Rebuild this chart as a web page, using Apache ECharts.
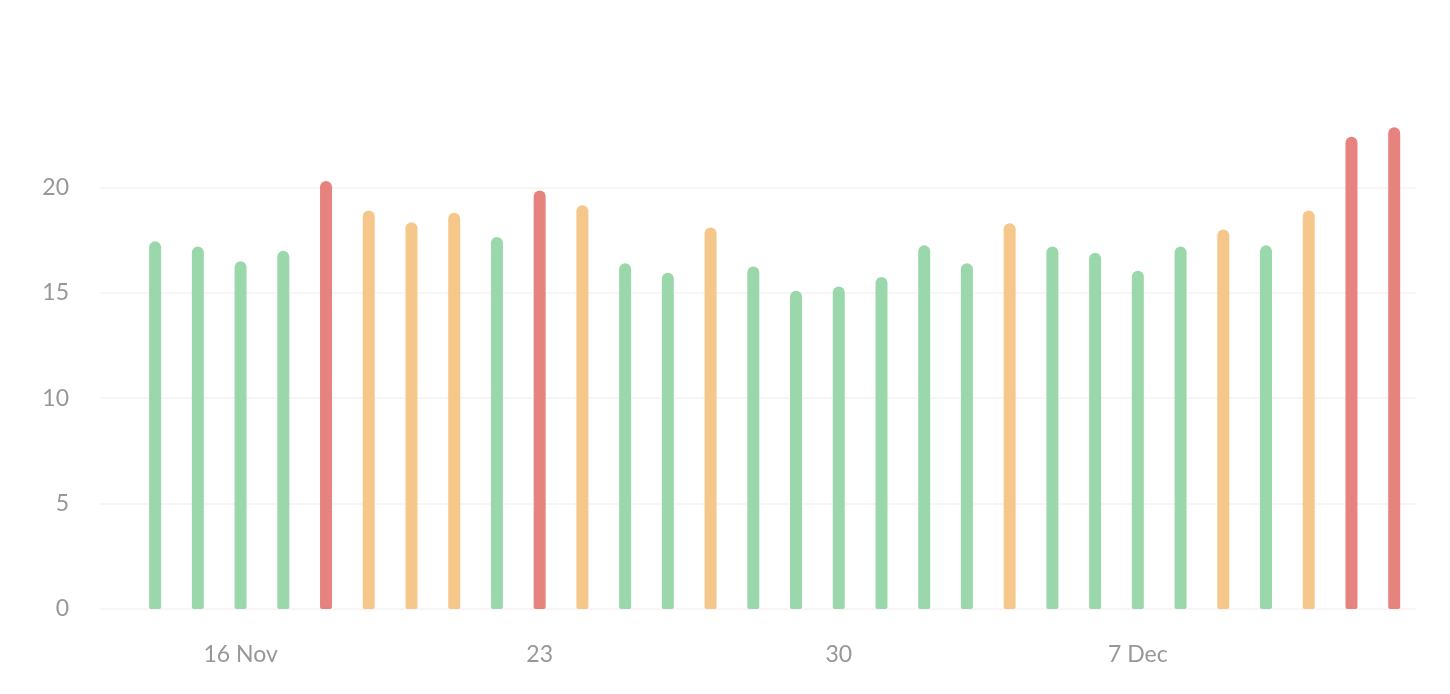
<!DOCTYPE html>
<html>
<head>
<meta charset="utf-8">
<script src="https://cdn.jsdelivr.net/npm/echarts@6/dist/echarts.min.js"></script>
<style>
  html, body { margin: 0; padding: 0; background: #fff; }
  #chart { width: 1450px; height: 694px; }
</style>
</head>
<body>
<div id="chart"></div>
<script>
// daily values, 14 Nov -> 13 Dec
const dates = [
  '2020-11-14', '2020-11-15', '2020-11-16', '2020-11-17', '2020-11-18', '2020-11-19',
  '2020-11-20', '2020-11-21', '2020-11-22', '2020-11-23', '2020-11-24', '2020-11-25',
  '2020-11-26', '2020-11-27', '2020-11-28', '2020-11-29', '2020-11-30', '2020-12-01',
  '2020-12-02', '2020-12-03', '2020-12-04', '2020-12-05', '2020-12-06', '2020-12-07',
  '2020-12-08', '2020-12-09', '2020-12-10', '2020-12-11', '2020-12-12', '2020-12-13'
];
const values = [
  17.45, 17.2, 16.5, 17.0, 20.3, 18.9,
  18.35, 18.8, 17.65, 19.85, 19.15, 16.4,
  15.95, 18.1, 16.25, 15.1, 15.3, 15.75,
  17.25, 16.4, 18.3, 17.2, 16.9, 16.05,
  17.2, 18.0, 17.25, 18.9, 22.4, 22.85
];
// g = ok, o = warning, r = high
const levels = [
  'g', 'g', 'g', 'g', 'r', 'o',
  'o', 'o', 'g', 'r', 'o', 'g',
  'g', 'o', 'g', 'g', 'g', 'g',
  'g', 'g', 'o', 'g', 'g', 'g',
  'g', 'o', 'g', 'o', 'r', 'r'
];
const tickDates = ['2020-11-16', '2020-11-23', '2020-11-30', '2020-12-07'];
const tickLabels = ['16 Nov', '23', '30', '7 Dec'];

const levelColors = { g: '#9ad8ab', o: '#f6c78b', r: '#e6837f' };

// x position = day index in the dates list
const tickIdx = tickDates.map(d => dates.indexOf(d));

const chart = echarts.init(document.getElementById('chart'));

chart.setOption({
  backgroundColor: '#fff',
  animation: false,
  textStyle: { fontFamily: 'Lato' },
  grid: { left: 100, right: 34, top: 82, bottom: 85 },
  xAxis: {
    type: 'value',
    min: -1.29,
    max: dates.length - 1 + 0.51,
    axisLine: { show: false },
    axisTick: { show: false },
    splitLine: { show: false },
    axisLabel: {
      customValues: tickIdx,
      formatter: function (v) {
        const i = tickIdx.indexOf(Math.round(v));
        return i >= 0 ? tickLabels[i] : '';
      },
      color: '#979797',
      fontSize: 23,
      margin: 34
    }
  },
  yAxis: {
    type: 'value',
    min: 0,
    max: 25,
    interval: 5,
    axisLine: { show: false },
    axisTick: { show: false },
    axisLabel: {
      color: '#979797',
      fontSize: 23,
      margin: 31,
      showMaxLabel: false
    },
    splitLine: {
      showMaxLine: false,
      lineStyle: { color: '#f7f0f2', width: 1.5 }
    }
  },
  series: [{
    type: 'bar',
    barWidth: 12,
    data: dates.map((d, i) => ({
      value: [i, values[i]],
      itemStyle: { color: levelColors[levels[i]] }
    })),
    itemStyle: { borderRadius: [6, 6, 2, 2] }
  }]
});
</script>
</body>
</html>
